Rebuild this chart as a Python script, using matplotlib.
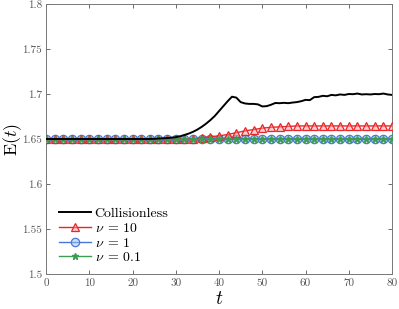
import matplotlib
matplotlib.use("Agg")
import matplotlib.pyplot as plt
import numpy as np

plt.rcParams['mathtext.fontset'] = 'cm'
plt.rcParams['font.family'] = ['cmr10', 'DejaVu Sans']
plt.rcParams['axes.formatter.use_mathtext'] = True

t_black = list(range(0, 81))
E_black = [1.650] * 25 + [
    1.6502, 1.6505, 1.6508, 1.651, 1.6515, 1.652, 1.653, 1.6545, 1.656, 1.658,
    1.6605, 1.6635, 1.667, 1.671, 1.6755, 1.681, 1.6865, 1.692, 1.697, 1.696,
    1.691, 1.6895, 1.689, 1.689, 1.6885, 1.6862, 1.6865, 1.688, 1.690, 1.6898,
    1.6902, 1.6898, 1.6905, 1.691, 1.692, 1.6935, 1.6932, 1.6965, 1.6968, 1.698,
    1.6975, 1.699, 1.6985, 1.6995, 1.699, 1.700, 1.6998, 1.7005, 1.6995, 1.6998,
    1.6995, 1.700, 1.6998, 1.7005, 1.6995, 1.699]

t_coll = list(range(0, 81, 2))
E_nu10 = [1.650] * 18 + [1.6515, 1.6525, 1.6535, 1.655, 1.657, 1.659, 1.6605,
                         1.662, 1.663, 1.6635, 1.664] + [1.6645] * 12
E_nu1 = [1.650] * 41
E_nu01 = [1.650] * 41

labels = ['Collisionless', r'$\nu\:=\:10$', r'$\nu\:=\:1$', r'$\nu\:=\:0.1$']
xticks = [0, 10, 20, 30, 40, 50, 60, 70, 80]
yticks = [1.5, 1.55, 1.6, 1.65, 1.7, 1.75, 1.8]
ytick_labels = ['1.5', '1.55', '1.6', '1.65', '1.7', '1.75', '1.8']

fig = plt.figure(figsize=(3.99, 3.09), dpi=100)
ax = fig.add_axes([0.1153, 0.1133, 0.8672, 0.8737])

red = '#e8262a'
blue = '#4a78d4'
green = '#3c9c52'

ax.plot(t_black, E_black, color='black', lw=1.4, label=labels[0], zorder=5)
ax.plot(t_coll, E_nu10, color=red, lw=1.0, marker='^', ms=6,
        mfc=(1, 0.6, 0.6, 0.5), mec=red, mew=0.9, label=labels[1], zorder=4)
ax.plot(t_coll, E_nu1, color=blue, lw=1.0, marker='o', ms=6,
        mfc=(0.6, 0.75, 0.95, 0.5), mec=blue, mew=0.9, label=labels[2], zorder=3)
ax.plot(t_coll, E_nu01, color=green, lw=1.0, marker='*', ms=5,
        mfc=green, mec=green, label=labels[3], zorder=4)

ax.set_xlim(0, 80)
ax.set_ylim(1.5, 1.8)
ax.set_xticks(xticks)
ax.set_xticklabels([str(x) for x in xticks])
ax.set_yticks(yticks)
ax.set_yticklabels(ytick_labels)
ax.tick_params(direction='in', length=3, width=0.6, colors='#555555',
               labelsize=8, top=True, right=True, pad=3)
for s in ax.spines.values():
    s.set_color('#777777')
    s.set_linewidth(0.7)

ax.set_xlabel(r'$t$', fontsize=14, labelpad=2)
ax.set_ylabel(r'E$(t)$', fontsize=13)
ax.yaxis.set_label_coords(-0.064, 0.5)

leg = ax.legend(loc='lower left', frameon=False, fontsize=10,
                handlelength=2.3, handletextpad=0.25, labelspacing=0.12,
                borderaxespad=0.3, bbox_to_anchor=(0.01, 0.0))

fig.savefig('out.png', dpi=100)
